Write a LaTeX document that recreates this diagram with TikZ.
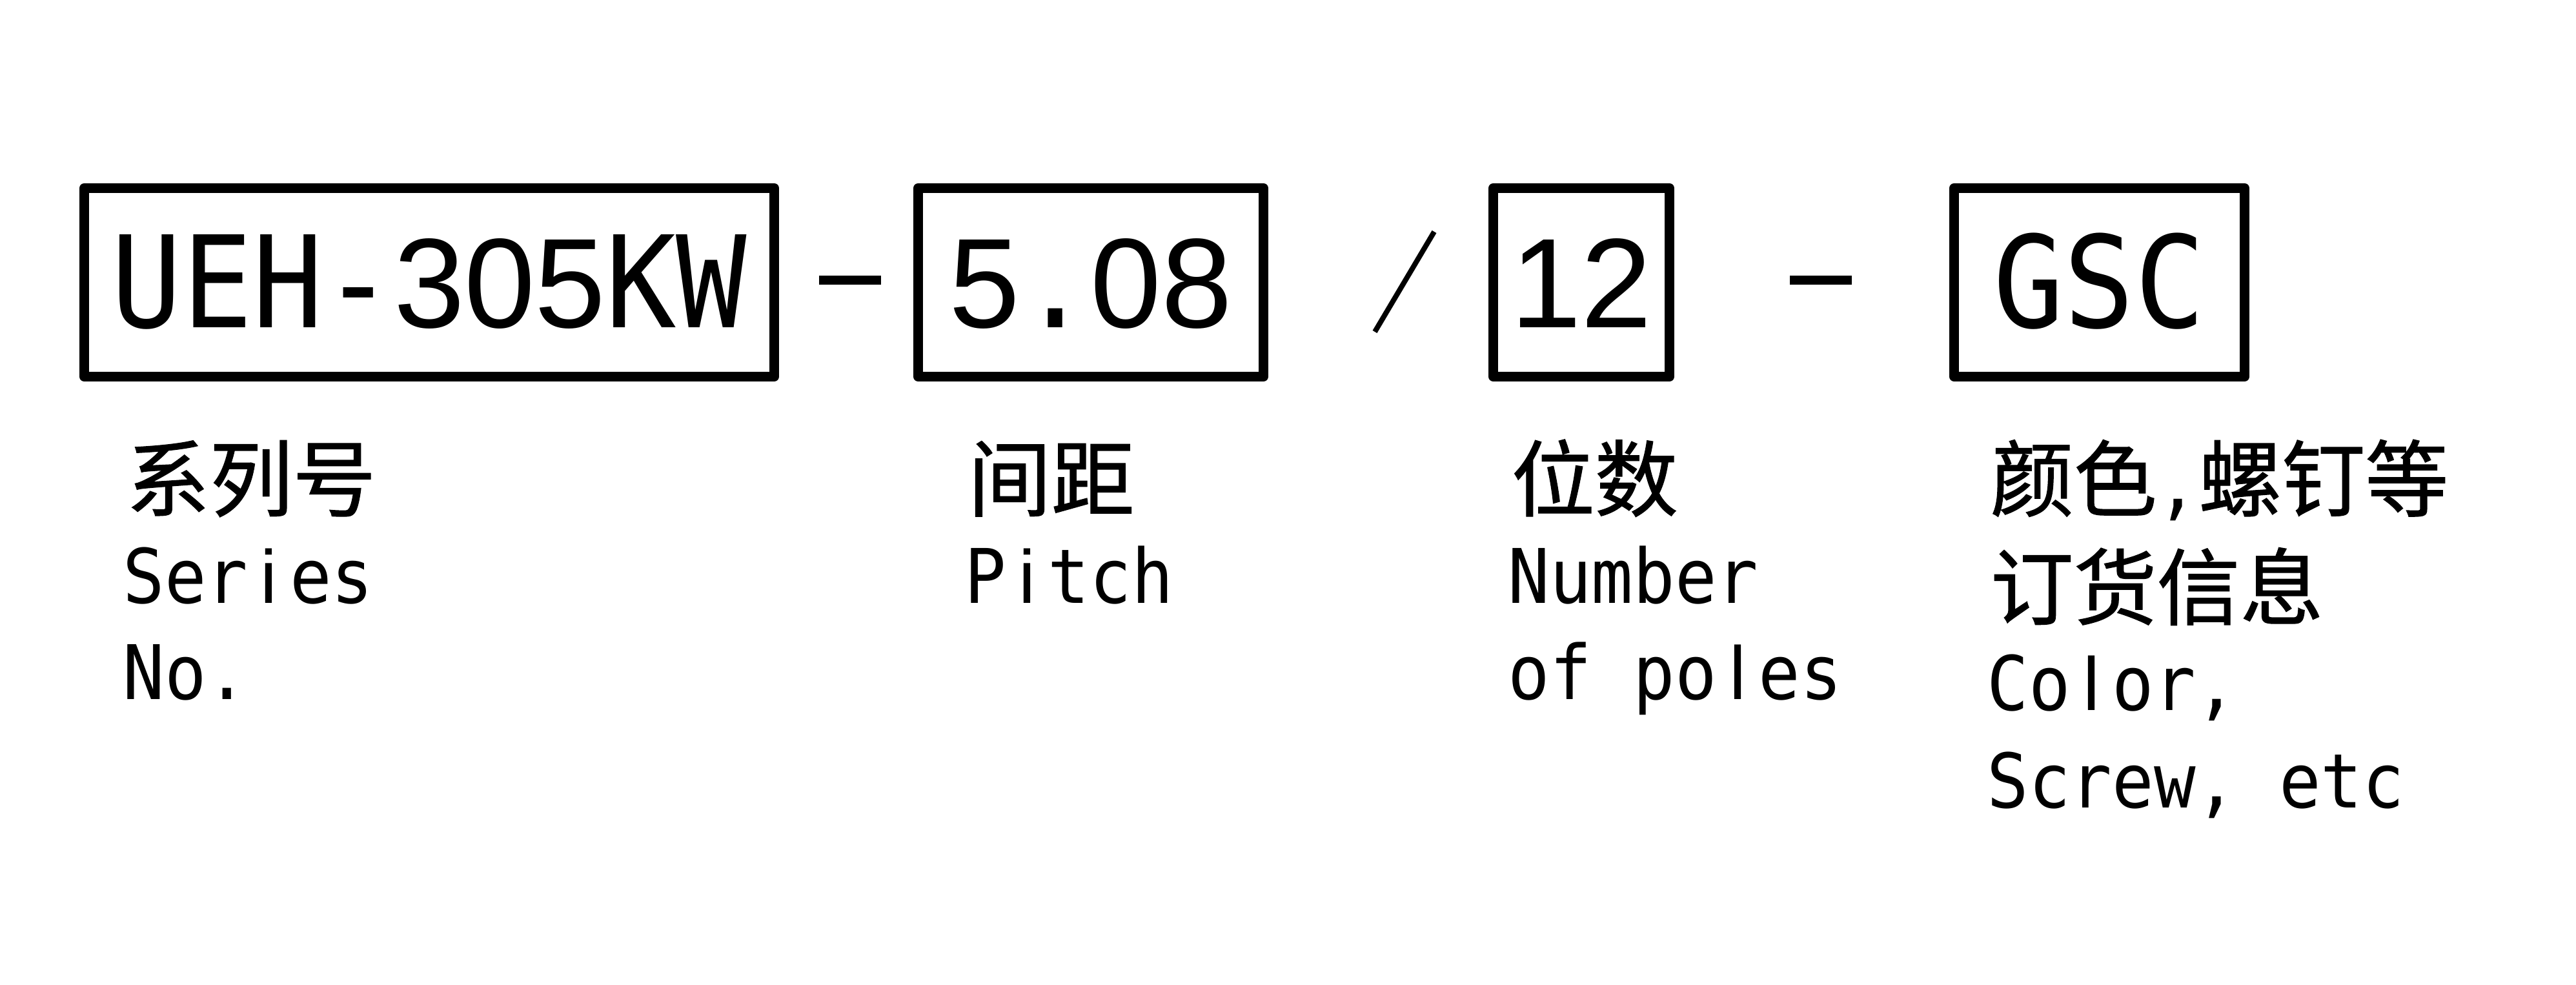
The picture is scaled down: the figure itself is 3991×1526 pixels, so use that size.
\documentclass[tikz,border=0pt]{standalone}
\usepackage{fontspec}
\newfontfamily\mono[FakeStretch=0.92]{DejaVu Sans Mono}
\newfontfamily\alt{Liberation Sans}
\newfontfamily\cjk[FakeBold=1]{Noto Sans CJK SC}
% one character of the plain sans, centred in a monospaced cell
\newcommand\pz[1]{\makebox[\fontcharwd\font`0][c]{\alt #1}}
\begin{document}
\begin{tikzpicture}[x=0.1mm,y=-0.1mm,
  codebox/.style={draw=black,line width=1.5mm,line join=round,inner sep=0pt,minimum height=29.2mm},
  codetext/.style={font=\mono\fontsize{56.2}{60}\selectfont,anchor=base,inner sep=0pt},
  sepline/.style={line width=1.4mm},
  slashline/.style={line width=0.8mm},
  lat/.style={font=\mono\fontsize{33.2}{36}\selectfont,anchor=base west,inner sep=0pt},
  han/.style={font=\cjk\fontsize{36.7}{40}\selectfont,anchor=base west,inner sep=0pt}]
\useasboundingbox (0,0) rectangle (3991,1526);
% boxes
\node[codebox,minimum width=106.9mm] (b1) at (665,437.5) {};
\node[codebox,minimum width=53.5mm] (b2) at (1690,437.5) {};
\node[codebox,minimum width=27.3mm] (b3) at (2450,437.5) {};
\node[codebox,minimum width=45.0mm] (b4) at (3252.5,437.5) {};
% box texts
\node[codetext] (t1) at (665,508) {UEH-\pz3\pz0\pz5KW};
\node[codetext] (t2) at (1690,508) {\pz5.\pz0\pz8};
\node[codetext] (t3) at (2450,508) {\pz1\pz2};
\node[codetext] (t4) at (3252.5,508) {GSC};
% separators
\coordinate (d1a) at (1269,434);
\coordinate (d1b) at (1365,434);
\draw[sepline] (d1a) -- (d1b);
\coordinate (s1a) at (2130,514);
\coordinate (s1b) at (2222,359);
\draw[slashline] (s1a) -- (s1b);
\coordinate (d2a) at (2773,434);
\coordinate (d2b) at (2869,434);
\draw[sepline] (d2a) -- (d2b);
% labels
\node[han] (c1a) at (195,790) {系列号};
\node[lat] (c1b) at (190,934) {Ser\pz{i}es};
\node[lat] (c1c) at (190,1083) {No.};
\node[han] (c2a) at (1499,790) {间距};
\node[lat] (c2b) at (1494,934) {P\pz{i}tch};
\node[han] (c3a) at (2341,790) {位数};
\node[lat] (c3b) at (2336,934) {Number};
\node[lat] (c3c) at (2336,1083) {of po\pz{l}es};
\node[han] (c4a) at (3083,790) {颜色{\mono\fontsize{33.2}{36}\selectfont,}螺钉等};
\node[han] (c4b) at (3083,958) {订货信息};
\node[lat] (c4c) at (3078,1100) {Co\pz{l}or,};
\node[lat] (c4d) at (3078,1251) {Screw, etc};
\end{tikzpicture}
\end{document}
